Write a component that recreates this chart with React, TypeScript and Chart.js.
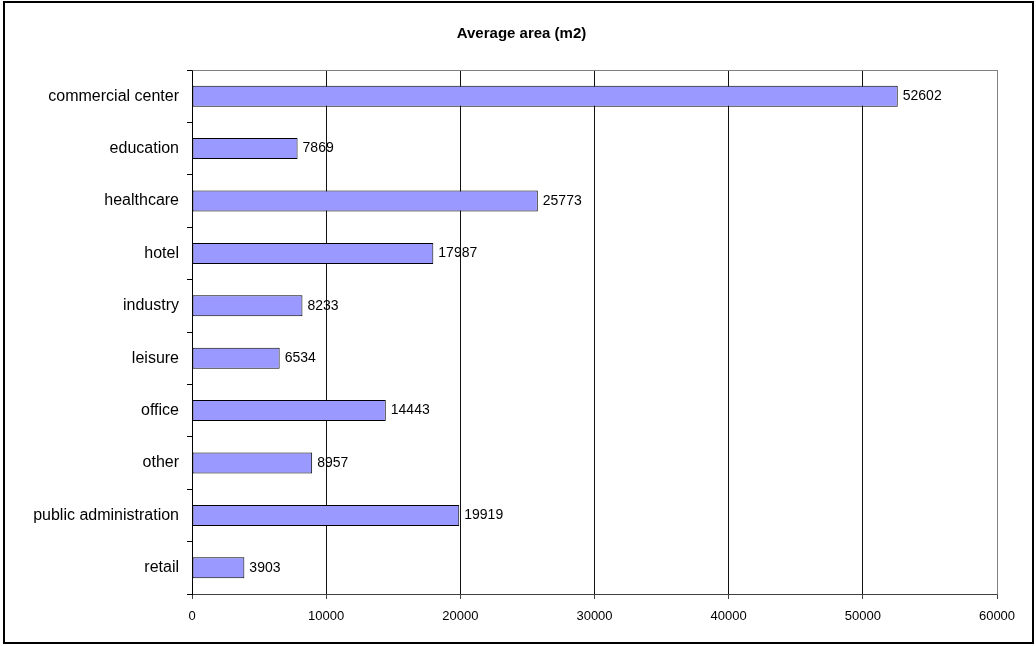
import React, { useEffect, useRef } from "react";
import { Chart, registerables, Plugin } from "chart.js";

Chart.register(...registerables);

const categories = [
  "commercial center",
  "education",
  "healthcare",
  "hotel",
  "industry",
  "leisure",
  "office",
  "other",
  "public administration",
  "retail",
];

const averageArea = [52602, 7869, 25773, 17987, 8233, 6534, 14443, 8957, 19919, 3903];

const chartTitle = "Average area (m2)";
const axisMax = 60000;
const axisStep = 10000;

const FONT = "'Liberation Sans', Arial, Helvetica, sans-serif";

// Outer frame around the whole chart
const framePlugin: Plugin<"bar"> = {
  id: "frame",
  afterDraw(chart) {
    const ctx = chart.ctx;
    ctx.save();
    ctx.strokeStyle = "#000";
    ctx.lineWidth = 2;
    ctx.strokeRect(4, 2, 1029, 641);
    ctx.restore();
  },
};

// Bold heading centred over the frame
const headingPlugin: Plugin<"bar"> = {
  id: "heading",
  afterDraw(chart) {
    const ctx = chart.ctx;
    ctx.save();
    ctx.fillStyle = "#000";
    ctx.font = `bold 15px ${FONT}`;
    ctx.textAlign = "center";
    ctx.textBaseline = "middle";
    ctx.fillText(chartTitle, 521.5, 34);
    ctx.restore();
  },
};

// Grey top and right edges of the plot area
const plotEdgePlugin: Plugin<"bar"> = {
  id: "plotEdge",
  beforeDatasetsDraw(chart) {
    const { ctx, chartArea } = chart;
    ctx.save();
    ctx.strokeStyle = "#808080";
    ctx.lineWidth = 1;
    ctx.beginPath();
    ctx.moveTo(Math.round(chartArea.left) + 0.5, Math.round(chartArea.top) + 0.5);
    ctx.lineTo(Math.round(chartArea.right) + 0.5, Math.round(chartArea.top) + 0.5);
    ctx.lineTo(Math.round(chartArea.right) + 0.5, Math.round(chartArea.bottom) + 0.5);
    ctx.stroke();
    ctx.restore();
  },
};

// Value printed just past the end of each bar
const valueLabelPlugin: Plugin<"bar"> = {
  id: "valueLabels",
  afterDatasetsDraw(chart) {
    const ctx = chart.ctx;
    const meta = chart.getDatasetMeta(0);
    ctx.save();
    ctx.fillStyle = "#000";
    ctx.font = `14px ${FONT}`;
    ctx.textAlign = "left";
    ctx.textBaseline = "middle";
    meta.data.forEach((bar: any, i: number) => {
      const v = chart.data.datasets[0].data[i] as number;
      ctx.fillText(String(v), bar.x + 5, bar.y);
    });
    ctx.restore();
  },
};

export default function App() {
  const canvasRef = useRef<HTMLCanvasElement | null>(null);

  useEffect(() => {
    if (!canvasRef.current) return;
    const chart = new Chart(canvasRef.current, {
      type: "bar",
      data: {
        labels: categories,
        datasets: [
          {
            data: averageArea,
            backgroundColor: "#9999FF",
            borderColor: "#000",
            borderWidth: 1,
            borderSkipped: false,
            barPercentage: 0.4,
            categoryPercentage: 1,
          },
        ],
      },
      options: {
        indexAxis: "y",
        responsive: false,
        animation: false,
        devicePixelRatio: 1,
        layout: { padding: { left: 0, right: 39, top: 70, bottom: 0 } },
        plugins: {
          legend: { display: false },
          tooltip: { enabled: false },
          title: { display: false },
        },
        scales: {
          x: {
            type: "linear",
            min: 0,
            max: axisMax,
            afterFit(scale: any) {
              scale.height = 52;
            },
            ticks: {
              stepSize: axisStep,
              color: "#000",
              padding: 10,
              font: { family: FONT, size: 13 },
              maxRotation: 0,
              callback: (value: any) => String(value),
            },
            grid: {
              drawOnChartArea: true,
              drawTicks: true,
              tickLength: 5,
              lineWidth: 1,
              color: (ctx: any) =>
                ctx.tick && ctx.tick.value === axisMax ? "#808080" : "#111",
              tickColor: "#404040",
            },
            border: { display: true, color: "#404040", width: 1 },
          },
          y: {
            type: "category",
            afterFit(scale: any) {
              scale.width = 192;
            },
            ticks: {
              color: "#000",
              padding: 8,
              font: { family: FONT, size: 16 },
              autoSkip: false,
            },
            grid: {
              offset: true,
              drawOnChartArea: false,
              drawTicks: true,
              tickLength: 5,
              color: "#000",
            },
            border: { display: true, color: "#000", width: 1 },
          },
        },
      },
      plugins: [plotEdgePlugin, valueLabelPlugin, headingPlugin, framePlugin],
    });
    return () => chart.destroy();
  }, []);

  return (
    <div
      style={{
        position: "fixed",
        left: 0,
        top: 0,
        width: 1036,
        height: 646,
        background: "#fff",
      }}
    >
      <canvas ref={canvasRef} width={1036} height={646} style={{ display: "block" }} />
    </div>
  );
}
